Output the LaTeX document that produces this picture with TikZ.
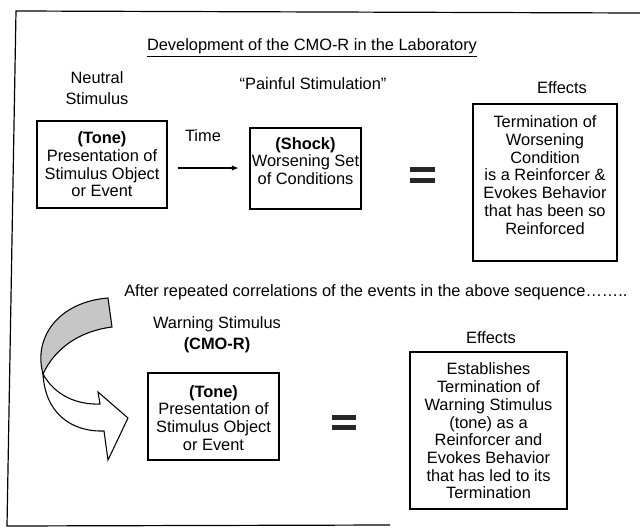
\documentclass[tikz,border=0pt]{standalone}
\usepackage{fontspec}
\setmainfont{Liberation Sans}
\usetikzlibrary{arrows.meta}
\tikzset{
  txt/.style={font=\fontsize{12.3pt}{13.3pt}\selectfont, align=center, inner sep=0pt},
  box/.style={draw, line width=1.1pt, rectangle, inner sep=0pt},
  framel/.style={line width=0.9pt},
  ribbon/.style={draw, line width=0.8pt, fill=white, line join=miter},
  ribbonshade/.style={draw, line width=0.8pt, fill=gray!45},
  eqbar/.style={fill=black!85},
  conn/.style={line width=0.8pt, -{Latex[length=5pt,width=4pt]}}
}
\begin{document}
\begin{tikzpicture}[x=0.75pt,y=-0.75pt]
\useasboundingbox (0,0) rectangle (640,529);
% frame
\draw[framel] (640,13) -- (16,11) -- (7,526) -- (390,525);
% title
\node[txt] (title) at (312,48) {\underline{Development of the CMO-R in the Laboratory}};
% column headings
\node[txt, font=\fontsize{12.3pt}{16pt}\selectfont] (neutral) at (97,88) {Neutral\\Stimulus};
\node[txt] (painful) at (313,84) {``Painful Stimulation''};
\node[txt] (eff1) at (562,88) {Effects};
% top row boxes
\node[box, minimum width=97.5pt, minimum height=65.25pt] (b1) at (102,164.5) {};
\node[txt] (b1t) at (102,164.5) {\textbf{(Tone)}\\Presentation of\\Stimulus Object\\or Event};
\node[txt] (time) at (203,136) {Time};
\node[box, minimum width=83.25pt, minimum height=60.75pt] (b2) at (305.5,168.5) {};
\node[txt] (b2t) at (305.5,161) {\textbf{(Shock)}\\Worsening Set\\of Conditions};
\draw[conn] ([xshift=7.5pt]b1.east |- 0,168) -- ([xshift=-8pt]b2.west |- 0,168);
\fill[eqbar] (410,167) rectangle (435,172);
\fill[eqbar] (410,178) rectangle (435,183);
\node[box, minimum width=108pt, minimum height=117.75pt] (b3) at (545,182.5) {};
\node[txt] (b3t) at (545,175) {Termination of\\Worsening\\Condition\\is a Reinforcer \&\\Evokes Behavior\\that has been so\\Reinforced};
% middle sentence
\node[txt, anchor=west] (after) at (124,292) {After repeated correlations of the events in the above sequence……..};
% curved arrow
\filldraw[ribbonshade] (108,298) -- (112,327) .. controls (80,331) and (55,348) .. (43,374) .. controls (33,338) and (58,302) .. cycle;
\draw[ribbon] (43,374) .. controls (55,396) and (78,405) .. (100,404) -- (98,392) -- (128,418) -- (108,460) -- (104,431) .. controls (70,432) and (45,412) .. cycle;
% bottom row
\node[txt, font=\fontsize{12.3pt}{16pt}\selectfont] (warn) at (217,335) {Warning Stimulus\\\textbf{(CMO-R)}};
\node[txt] (eff2) at (491,338) {Effects};
\node[box, minimum width=98.25pt, minimum height=65.25pt] (b4) at (213.5,416.5) {};
\node[txt] (b4t) at (213.5,418) {\textbf{(Tone)}\\Presentation of\\Stimulus Object\\or Event};
\fill[eqbar] (332,415) rectangle (356,420);
\fill[eqbar] (332,425) rectangle (356,430);
\node[box, minimum width=117.75pt, minimum height=117.75pt] (b5) at (488.5,430.5) {};
\node[txt] (b5t) at (488.5,431) {Establishes\\Termination of\\Warning Stimulus\\(tone) as a\\Reinforcer and\\Evokes Behavior\\that has led to its\\Termination};
\end{tikzpicture}
\end{document}
